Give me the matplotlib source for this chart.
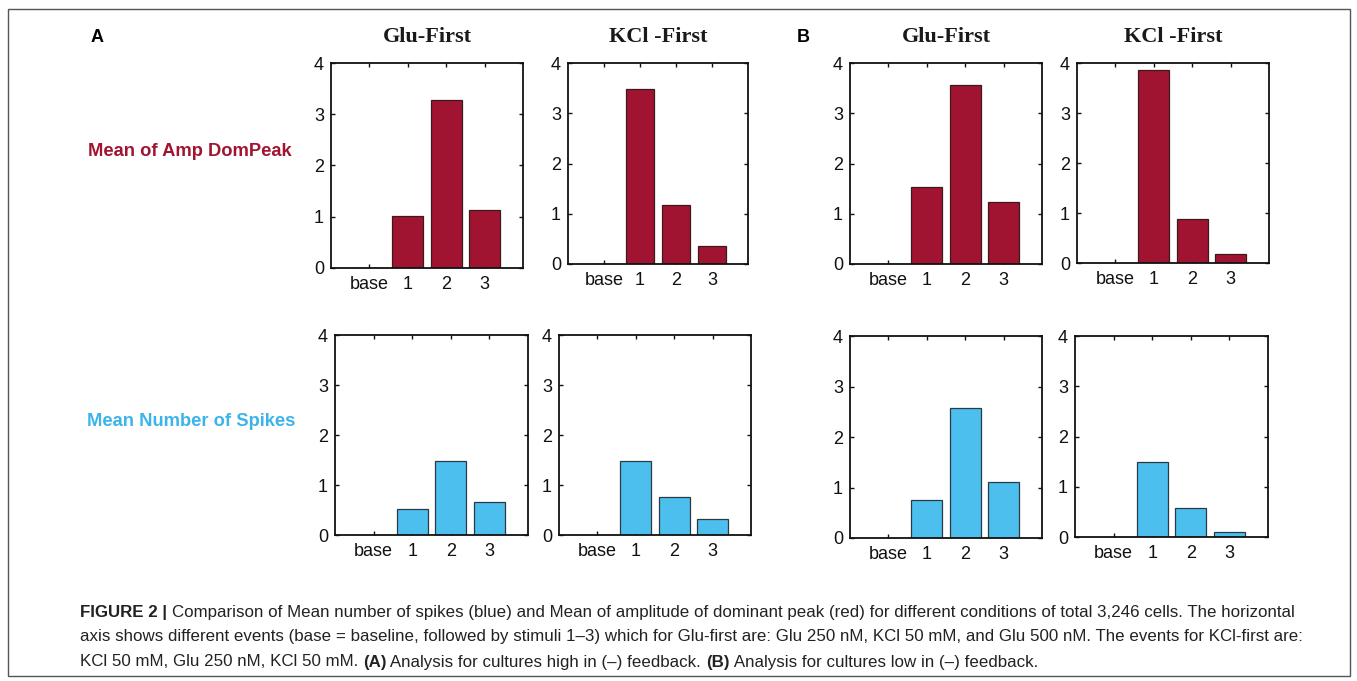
import matplotlib
matplotlib.use("Agg")
import matplotlib.pyplot as plt
from matplotlib.patches import Rectangle

plt.rcParams['font.family'] = ['Liberation Sans', 'DejaVu Sans']

W, H = 1357, 681
categories = ['base', '1', '2', '3']
yticks = [0, 1, 2, 3, 4]

amp_A_glu = [0, 1.02, 3.27, 1.13]
amp_A_kcl = [0, 3.49, 1.18, 0.36]
amp_B_glu = [0, 1.54, 3.57, 1.24]
amp_B_kcl = [0, 3.87, 0.88, 0.18]
spk_A_glu = [0, 0.53, 1.49, 0.66]
spk_A_kcl = [0, 1.49, 0.77, 0.32]
spk_B_glu = [0, 0.76, 2.58, 1.10]
spk_B_kcl = [0, 1.49, 0.58, 0.10]

col_titles = ['Glu-First', 'KCl -First', 'Glu-First', 'KCl -First']
row_labels = ['Mean of Amp DomPeak', 'Mean Number of Spikes']
RED = '#a11431'
BLUE = '#4dbfee'

fig = plt.figure(figsize=(W / 100, H / 100), dpi=100)

def px_axes(l, t, r, b):
    return fig.add_axes([l / W, 1 - b / H, (r - l) / W, (b - t) / H])

# pixel boxes (left, top, right, bottom)
boxes = [
    [(331, 63, 523, 268), (568, 63, 748, 264), (850, 63, 1042, 264), (1077, 63, 1269, 263)],
    [(335, 335, 528, 535), (559, 335, 751, 535), (850, 336, 1042, 538), (1075, 336, 1268, 537)],
]
data = [[amp_A_glu, amp_A_kcl, amp_B_glu, amp_B_kcl],
        [spk_A_glu, spk_A_kcl, spk_B_glu, spk_B_kcl]]
colors = [RED, BLUE]

xpos = list(range(1, len(categories) + 1))
for r in range(2):
    for c in range(4):
        ax = px_axes(*boxes[r][c])
        ax.bar(xpos, data[r][c], width=0.8, color=colors[r],
               edgecolor='#3a1a1a' if r == 0 else '#2a3a45', linewidth=0.9, zorder=2)
        ax.set_xlim(0, 5)
        ax.set_ylim(0, 4)
        ax.set_xticks(xpos)
        ax.set_xticklabels(categories)
        ax.set_yticks(yticks)
        ax.tick_params(direction='in', length=3, width=1, top=True, right=True,
                       labelsize=13, pad=6, colors='#111111')
        ax.tick_params(axis='y', pad=5)
        for s in ax.spines.values():
            s.set_linewidth(1.3)
            s.set_color('#111111')
        if r == 0:
            l, t, rr, b = boxes[r][c]
            fig.text(((l + rr) / 2) / W, 1 - 37 / H, col_titles[c], ha='center', va='center',
                     family='Liberation Serif', fontsize=16, fontweight='bold', color='#1a1a1a')

fig.text(97 / W, 1 - 37 / H, 'A', ha='center', va='center', fontsize=13, fontweight='bold')
fig.text(803 / W, 1 - 37 / H, 'B', ha='center', va='center', fontsize=13, fontweight='bold')
fig.text(88 / W, 1 - 152 / H, row_labels[0], ha='left', va='center', fontsize=13.2,
         fontweight='bold', color=RED)
fig.text(87 / W, 1 - 421 / H, row_labels[1], ha='left', va='center', fontsize=13.2,
         fontweight='bold', color='#3cb4ea')

# border box
fig.patches.append(Rectangle((8 / W, 1 - 676 / H), (1350 - 8) / W, (676 - 9) / H,
                             transform=fig.transFigure, fill=False, edgecolor='#555555',
                             linewidth=1.0))

caption_lines = [
    [("FIGURE 2 | ", True), ("Comparison of Mean number of spikes (blue) and Mean of amplitude of dominant peak (red) for different conditions of total 3,246 cells. The horizontal", False)],
    [("axis shows different events (base = baseline, followed by stimuli 1\u20133) which for Glu-first are: Glu 250 nM, KCl 50 mM, and Glu 500 nM. The events for KCl-first are:", False)],
    [("KCl 50 mM, Glu 250 nM, KCl 50 mM. ", False), ("(A)", True), (" Analysis for cultures high in (\u2013) feedback. ", False), ("(B)", True), (" Analysis for cultures low in (\u2013) feedback.", False)],
]
cap_y = [612, 637, 662]
fig.canvas.draw()
renderer = fig.canvas.get_renderer()
for line, y in zip(caption_lines, cap_y):
    x = 80
    for txt, bold in line:
        t = fig.text(x / W, 1 - y / H, txt, ha='left', va='center', fontsize=12.15,
                     fontweight='bold' if bold else 'normal', color='#222222')
        bb = t.get_window_extent(renderer)
        x = bb.x1

fig.savefig('out.png', dpi=100)
